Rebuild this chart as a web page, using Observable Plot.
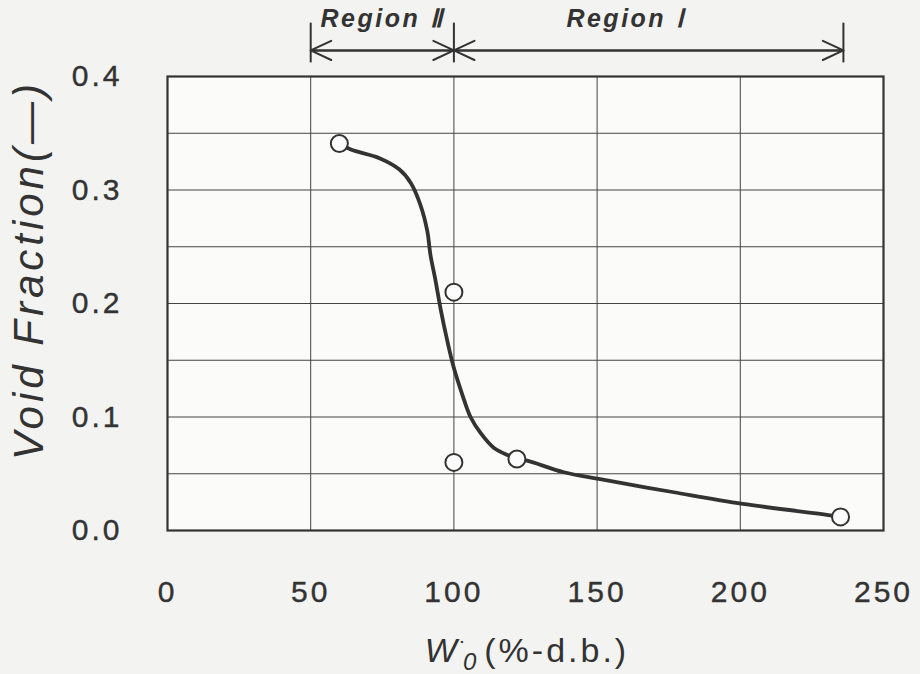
<!DOCTYPE html>
<html>
<head>
<meta charset="utf-8">
<script src="https://cdn.jsdelivr.net/npm/d3@7"></script>
<script src="https://cdn.jsdelivr.net/npm/@observablehq/plot@0.6"></script>
<style>
  html, body { margin: 0; padding: 0; background: #f3f3f2; }
  #chart { width: 920px; height: 674px; }
  svg { font-family: "Liberation Sans", Arial, Helvetica, sans-serif; }
  svg [aria-label="x-axis tick label"] text,
  svg [aria-label="y-axis tick label"] text { letter-spacing: 3px; stroke: #333; stroke-width: 0.4px; }
</style>
</head>
<body>
<div id="chart"></div>
<script>
// ---- data ----
const xTicks = [0, 50, 100, 150, 200, 250];
const xGrid = [50, 100, 150, 200];
const yTicks = [0.0, 0.1, 0.2, 0.3, 0.4];
const yGrid = [0.05, 0.1, 0.15, 0.2, 0.25, 0.3, 0.35];

// measured points (open circles)
const pointW    = [60, 100, 100, 122, 235];
const pointVoid = [0.341, 0.210, 0.060, 0.063, 0.012];

// hand-drawn fitted curve
const curveW    = [60, 64, 74, 81, 85, 88.3, 90.7, 91.8, 93.6, 95.3, 97.7, 99.9, 102.9, 105.8, 109.3, 113.9, 119.2, 122.2, 125.6, 138.4, 150.6, 176.8, 200.9, 232, 235];
const curveVoid = [0.341, 0.3356, 0.328, 0.318, 0.306, 0.287, 0.264, 0.243, 0.220, 0.196, 0.167, 0.144, 0.120, 0.100, 0.086, 0.073, 0.066, 0.063, 0.0615, 0.0513, 0.0454, 0.0337, 0.0235, 0.0132, 0.012];

// region annotations
const regionNames  = ["Region Ⅱ", "Region Ⅰ"];
const regionStart  = [50, 100];
const regionEnd    = [100, 236];
const regionLabelW = [75, 160];
const regionBounds = [50, 100, 236];

// ---- build ----
const points = pointW.map((w, i) => ({w, v: pointVoid[i]}));
const curve = curveW.map((w, i) => ({w, v: curveVoid[i]}));
const regions = regionNames.map((name, i) => ({name, start: regionStart[i], end: regionEnd[i], lw: regionLabelW[i]}));

const yMax = 0.4;
const ink = "#333";
const W = 920, H = 674;
const mL = 167, mR = 37, mT = 76, mB = 144;

const chart = Plot.plot({
  width: W,
  height: H,
  marginLeft: mL,
  marginRight: mR,
  marginTop: mT,
  marginBottom: mB,
  style: {background: "transparent", color: ink},
  x: {domain: [0, 250]},
  y: {domain: [0, yMax]},
  marks: [
    Plot.frame({fill: "#fbfbfa", stroke: "none"}),
    Plot.gridX(xGrid, {stroke: "#444", strokeOpacity: 1, strokeWidth: 1}),
    Plot.gridY(yGrid, {stroke: "#444", strokeOpacity: 1, strokeWidth: 1}),
    Plot.frame({stroke: ink, strokeWidth: 2.2}),
    Plot.axisX(xTicks, {tickSize: 0, tickPadding: 50, fontSize: 30, label: null, tickFormat: d => String(d), fill: ink}),
    Plot.axisY(yTicks, {tickSize: 0, tickPadding: 45, fontSize: 30, label: null, tickFormat: d => d.toFixed(1), fill: ink}),
    Plot.line(curve, {x: "w", y: "v", curve: "catmull-rom", stroke: ink, strokeWidth: 3.8}),
    Plot.dot(points, {x: "w", y: "v", r: 8.5, fill: "#fcfcfc", stroke: ink, strokeWidth: 2}),
    // region annotations above the frame
    Plot.ruleX(regionBounds, {x: d => d, y1: yMax + 0.012, y2: yMax + 0.047, stroke: ink, strokeWidth: 2}),
    Plot.arrow(regions, {x1: "start", x2: "end", y1: yMax + 0.023, y2: yMax + 0.023, stroke: ink, strokeWidth: 2, headLength: 17, headAngle: 50}),
    Plot.arrow(regions, {x1: "end", x2: "start", y1: yMax + 0.023, y2: yMax + 0.023, stroke: ink, strokeWidth: 2, headLength: 17, headAngle: 50}),
    Plot.text(regions, {x: "lw", y: yMax + 0.051, text: "name", fontSize: 25, fontWeight: "bold", fontStyle: "italic", fill: ink})
  ]
});

document.getElementById("chart").appendChild(chart);

const svg = d3.select(chart);
// region label letter spacing
svg.selectAll('[aria-label="text"] text').style("letter-spacing", "2.5px");

// y-axis title
const yMid = 270;
svg.append("text")
  .attr("transform", `translate(28,${yMid}) rotate(-90)`)
  .attr("text-anchor", "middle")
  .attr("dy", "0.35em")
  .attr("fill", ink)
  .style("font-size", "42px")
  .style("font-style", "italic")
  .style("letter-spacing", "4px")
  .text("Void Fraction(—)");

// x-axis title: W˙0 (%-d.b.)
const xMid = (mL + (W - mR)) / 2 + 2;
const xt = svg.append("text")
  .attr("x", xMid)
  .attr("y", 662)
  .attr("text-anchor", "middle")
  .attr("fill", ink)
  .style("font-size", "34px");
xt.append("tspan").style("font-style", "italic").text("W");
xt.append("tspan").attr("dx", 2).attr("dy", -4).style("font-size", "24px").text("˙");
xt.append("tspan").attr("dx", -4).attr("dy", 12).style("font-style", "italic").style("font-size", "24px").text("0");
xt.append("tspan").attr("dx", 8).attr("dy", -8).style("letter-spacing", "3px").text("(%-d.b.)");
</script>
</body>
</html>
